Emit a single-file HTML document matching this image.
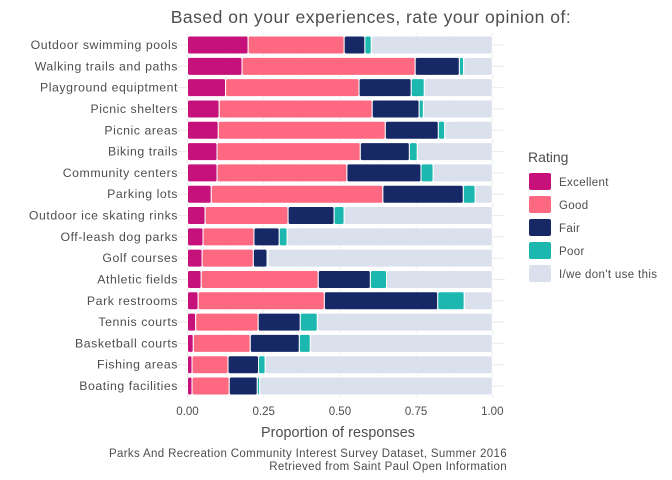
<!DOCTYPE html>
<html><head><meta charset="utf-8"><style>
body{margin:0;background:#fff;}
svg{display:block;font-family:"Liberation Sans",sans-serif;}
</style></head><body>
<svg id="chart" width="672" height="480" viewBox="0 0 672 480">
<g id="grid"></g><g id="bars"></g><g id="ylabels"></g><g id="xticks"></g>
<text x="371" y="23" text-anchor="middle" font-size="17.5" letter-spacing="0.5" fill="#4d4d4d">Based on your experiences, rate your opinion of:</text>
<text x="338" y="437" text-anchor="middle" font-size="14.3" letter-spacing="0.1" fill="#4d4d4d">Proportion of responses</text>
<text x="507" y="457" text-anchor="end" font-size="11.5" letter-spacing="0.35" fill="#4d4d4d">Parks And Recreation Community Interest Survey Dataset, Summer 2016</text>
<text x="507" y="470" text-anchor="end" font-size="11.5" letter-spacing="0.35" fill="#4d4d4d">Retrieved from Saint Paul Open Information</text>
<g id="legend"><text x="528" y="162" font-size="14" fill="#4d4d4d">Rating</text></g>
</svg>
<script>
const categories=["Outdoor swimming pools","Walking trails and paths","Playground equiptment","Picnic shelters","Picnic areas","Biking trails","Community centers","Parking lots","Outdoor ice skating rinks","Off-leash dog parks","Golf courses","Athletic fields","Park restrooms","Tennis courts","Basketball courts","Fishing areas","Boating facilities"];
const excellent=[0.199,0.179,0.125,0.104,0.101,0.097,0.097,0.078,0.058,0.051,0.048,0.045,0.035,0.027,0.019,0.015,0.015];
const good=[0.315,0.568,0.438,0.502,0.548,0.470,0.426,0.563,0.272,0.167,0.168,0.384,0.414,0.205,0.187,0.118,0.122];
const fair=[0.068,0.145,0.171,0.154,0.174,0.161,0.243,0.264,0.151,0.083,0.045,0.171,0.372,0.138,0.161,0.100,0.092];
const poor=[0.021,0.014,0.043,0.014,0.021,0.026,0.040,0.039,0.033,0.026,0.004,0.053,0.087,0.056,0.036,0.022,0.008];
const seriesNames=["Excellent","Good","Fair","Poor","I/we don't use this"];
const colors=["#c6117b","#fe6981","#172867","#1cb8b0","#dae0ec"];
const tickValues=[0,0.25,0.5,0.75,1];
const tickLabels=["0.00","0.25","0.50","0.75","1.00"];
const NS="http://www.w3.org/2000/svg";
const x0=187.5,x1=492.3;
const xs=v=>x0+v*(x1-x0);
const yTop=45,yBot=386;
const ys=i=>yTop+i*(yBot-yTop)/(categories.length-1);
function mk(tag,attrs,parent){const e=document.createElementNS(NS,tag);for(const k in attrs)e.setAttribute(k,attrs[k]);parent.appendChild(e);return e;}
const grid=document.getElementById('grid'),bars=document.getElementById('bars'),yl=document.getElementById('ylabels'),xt=document.getElementById('xticks'),lg=document.getElementById('legend');
for(let v=0;v<=1.0001;v+=0.125){const l=mk('line',{x1:xs(v),x2:xs(v),y1:33,y2:398,stroke:'#ebebeb','stroke-width':(Math.round(v*8)%2===0)?1.1:0.6},grid);

}
categories.forEach((c,i)=>{
 const g=mk('line',{x1:177,x2:505,y1:ys(i),y2:ys(i),stroke:'#ebebeb','stroke-width':1.1},grid);
 
 
 const vals=[excellent[i],good[i],fair[i],poor[i]];
 vals.push(1-vals.reduce((a,b)=>a+b,0));
 let cum=0;
 vals.forEach((v,s)=>{
  const r=mk('rect',{x:xs(cum),y:ys(i)-9,width:Math.max(0,xs(cum+v)-xs(cum)),height:18,rx:2,fill:colors[s],stroke:'#fff','stroke-width':1},bars);
  
  
  cum+=v;
 });
 const t=mk('text',{x:178,y:ys(i)+4,'text-anchor':'end','font-size':12.3,'letter-spacing':0.55,fill:'#4d4d4d'},yl);
 t.textContent=c;
 
 
});
tickValues.forEach((v,k)=>{const t=mk('text',{x:xs(v),y:415,'text-anchor':'middle','font-size':11.5,fill:'#4d4d4d'},xt);
t.textContent=tickLabels[k];

});
seriesNames.forEach((n,s)=>{const y=173+s*23;
 const r=mk('rect',{x:529,y:y,width:22,height:17,rx:2,fill:colors[s]},lg);
 
 
 const t=mk('text',{x:559,y:y+13,'font-size':11.5,'letter-spacing':0.35,fill:'#4d4d4d'},lg);
 t.textContent=n;
 
 
});
</script>
</body></html>
